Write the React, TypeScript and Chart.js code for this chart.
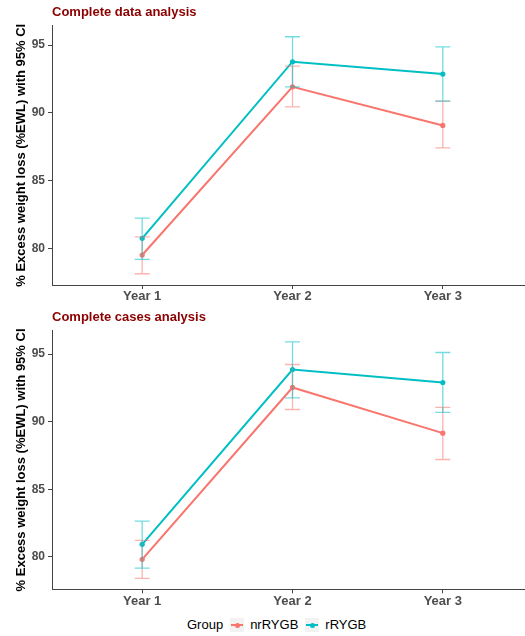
import React, { useEffect, useRef } from 'react';
import { Chart, registerables } from 'chart.js';

Chart.register(...registerables);

const categories = ['Year 1', 'Year 2', 'Year 3'];
const yTicks = [80, 85, 90, 95];
const groupNames = ['nrRYGB', 'rRYGB'];
const groupColors = ['#F8766D', '#00BFC4'];
const yTitle = '% Excess weight loss (%EWL) with 95% CI';

// Panel 1: Complete data analysis
const dataNrMean = [79.54, 91.92, 89.08];
const dataNrLow = [78.16, 90.45, 87.43];
const dataNrHigh = [80.88, 93.45, 90.87];
const dataRMean = [80.77, 93.77, 92.86];
const dataRLow = [79.22, 91.92, 90.87];
const dataRHigh = [82.26, 95.61, 94.87];

// Panel 2: Complete cases analysis
const casesNrMean = [79.81, 92.53, 89.15];
const casesNrLow = [78.4, 90.9, 87.2];
const casesNrHigh = [81.21, 94.23, 91.05];
const casesRMean = [80.92, 93.86, 92.9];
const casesRLow = [79.16, 91.76, 90.68];
const casesRHigh = [82.64, 95.9, 95.12];

const FONT = "'Liberation Sans', Arial, sans-serif";

function hexA(hex: string, a: number) {
  const n = parseInt(hex.slice(1), 16);
  return `rgba(${(n >> 16) & 255},${(n >> 8) & 255},${n & 255},${a})`;
}

const errorBarPlugin = {
  id: 'errorBars',
  afterDatasetsDraw(chart: any) {
    const { ctx, scales } = chart;
    const xs = scales.x;
    const ys = scales.y;
    ctx.save();
    chart.data.datasets.forEach((ds: any) => {
      ctx.strokeStyle = hexA(ds.borderColor, 0.55);
      ctx.lineWidth = 1.3;
      ds.errLow.forEach((lo: number, j: number) => {
        const hi = ds.errHigh[j];
        const xc = xs.getPixelForValue(j);
        const xl = xs.getPixelForValue(j - 0.05);
        const xr = xs.getPixelForValue(j + 0.05);
        const yl = ys.getPixelForValue(lo);
        const yh = ys.getPixelForValue(hi);
        ctx.beginPath();
        ctx.moveTo(xc, yl);
        ctx.lineTo(xc, yh);
        ctx.moveTo(xl, yl);
        ctx.lineTo(xr, yl);
        ctx.moveTo(xl, yh);
        ctx.lineTo(xr, yh);
        ctx.stroke();
      });
    });
    ctx.restore();
  },
};

type Series = { mean: number[]; low: number[]; high: number[] };

function Panel(props: {
  title: string;
  series: Series[];
  yMin: number;
  yMax: number;
  top: number;
  height: number;
  xAxisHeight: number;
}) {
  const ref = useRef<HTMLCanvasElement>(null);
  useEffect(() => {
    const axisColor = '#444444';
    const yTickFont = { family: FONT, size: 12, weight: 'bold' as const };
    const xTickFont = { family: FONT, size: 13, weight: 'bold' as const };
    const chart = new Chart(ref.current as HTMLCanvasElement, {
      type: 'line',
      data: {
        datasets: props.series.map((s, i) => ({
          label: groupNames[i],
          data: s.mean.map((v, j) => ({ x: j, y: v })),
          errLow: s.low,
          errHigh: s.high,
          borderColor: groupColors[i],
          backgroundColor: groupColors[i],
          borderWidth: 2,
          pointRadius: 2.6,
          pointBorderWidth: 0,
          tension: 0,
        })) as any,
      },
      options: {
        responsive: false,
        animation: false,
        layout: { padding: 0 },
        plugins: {
          legend: { display: false },
          tooltip: { enabled: false },
          title: {
            display: true,
            text: props.title,
            align: 'start',
            fullSize: false,
            color: '#8B0000',
            font: { family: FONT, size: 13, weight: 'bold' },
            padding: { top: 5, bottom: 5 },
          },
        },
        scales: {
          x: {
            type: 'linear',
            min: -0.6,
            max: 2.6,
            afterBuildTicks: (s: any) => {
              s.ticks = categories.map((_, i) => ({ value: i }));
            },
            afterFit: (s: any) => {
              s.height = props.xAxisHeight;
            },
            ticks: {
              callback: (v: any) => categories[v as number],
              color: '#4d4d4d',
              font: xTickFont,
              padding: 0,
              maxRotation: 0,
              autoSkip: false,
            },
            grid: { display: true, drawOnChartArea: false, drawTicks: true, tickLength: 4, color: axisColor },
            border: { display: true, color: axisColor, width: 1 },
          },
          y: {
            type: 'linear',
            min: props.yMin,
            max: props.yMax,
            afterBuildTicks: (s: any) => {
              s.ticks = yTicks.map((v) => ({ value: v }));
            },
            afterFit: (s: any) => {
              s.width = 52;
            },
            title: {
              display: true,
              text: yTitle,
              color: '#000000',
              font: { family: FONT, size: 13, weight: 'bold' },
              padding: { top: 14, bottom: 0 },
            },
            ticks: { color: '#4d4d4d', font: yTickFont, padding: 3 },
            grid: { display: true, drawOnChartArea: false, drawTicks: true, tickLength: 4, color: axisColor },
            border: { display: true, color: axisColor, width: 1 },
          },
        },
      } as any,
      plugins: [errorBarPlugin],
    });
    return () => chart.destroy();
  }, []);
  return (
    <canvas
      ref={ref}
      width={537}
      height={props.height}
      style={{ position: 'absolute', left: 0, top: props.top, display: 'block' }}
    />
  );
}

function LegendKey({ color }: { color: string }) {
  return (
    <div style={{ position: 'relative', width: 14, height: 14, background: '#f2f2f2', margin: '0 6px 0 7px' }}>
      <div style={{ position: 'absolute', left: 1, right: 1, top: 6, height: 2, background: color }} />
      <div
        style={{
          position: 'absolute',
          left: 4.5,
          top: 4.5,
          width: 5,
          height: 5,
          borderRadius: '50%',
          background: color,
        }}
      />
    </div>
  );
}

export default function App() {
  return (
    <div
      style={{
        position: 'absolute',
        left: 0,
        top: 0,
        width: 525,
        height: 636,
        overflow: 'hidden',
        background: '#ffffff',
      }}
    >
      <Panel
        title="Complete data analysis"
        series={[
          { mean: dataNrMean, low: dataNrLow, high: dataNrHigh },
          { mean: dataRMean, low: dataRLow, high: dataRHigh },
        ]}
        yMin={77.33}
        yMax={96.43}
        top={0}
        height={305}
        xAxisHeight={20}
      />
      <Panel
        title="Complete cases analysis"
        series={[
          { mean: casesNrMean, low: casesNrLow, high: casesNrHigh },
          { mean: casesRMean, low: casesRLow, high: casesRHigh },
        ]}
        yMin={77.59}
        yMax={96.74}
        top={305}
        height={305}
        xAxisHeight={20.7}
      />
      <div
        style={{
          position: 'absolute',
          left: 187,
          top: 618,
          display: 'flex',
          alignItems: 'center',
          fontFamily: FONT,
          fontSize: 13,
          color: '#000',
          lineHeight: '14px',
          whiteSpace: 'nowrap',
        }}
      >
        <span>Group</span>
        {groupNames.map((g, i) => (
          <React.Fragment key={g}>
            <LegendKey color={groupColors[i]} />
            <span>{g}</span>
          </React.Fragment>
        ))}
      </div>
    </div>
  );
}
